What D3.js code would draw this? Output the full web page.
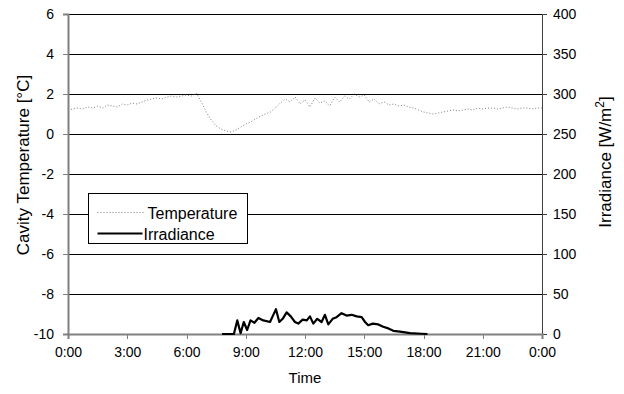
<!DOCTYPE html>
<html>
<head>
<meta charset="utf-8">
<script src="https://cdn.jsdelivr.net/npm/d3@7"></script>
<style>
body { margin: 0; background: #fff; }
text { font-family: "Liberation Sans", Arial, sans-serif; font-size: 14px; fill: #000; }
</style>
</head>
<body>
<svg width="624" height="394"></svg>
<script>
// temperature, every 15 min from 0:00 to 24:00
var tempValues = [1.2,1.25,1.3,1.25,1.35,1.3,1.4,1.3,1.45,1.4,1.35,1.5,1.45,1.55,1.5,1.6,
  1.7,1.75,1.8,1.75,1.85,1.9,1.85,1.9,1.95,1.9,2.05,1.6,1.1,0.7,0.4,0.25,
  0.15,0.1,0.2,0.35,0.5,0.6,0.75,0.9,1.0,1.1,1.3,1.55,1.75,1.6,1.85,1.5,
  1.7,1.35,1.8,1.55,1.65,1.4,1.85,1.6,1.9,1.75,2.0,1.85,1.95,1.6,1.75,1.5,
  1.6,1.45,1.5,1.4,1.45,1.35,1.3,1.2,1.1,1.05,1.0,1.05,1.1,1.15,1.2,1.15,
  1.2,1.25,1.2,1.3,1.25,1.3,1.3,1.25,1.3,1.35,1.3,1.25,1.3,1.3,1.25,1.3,1.3];

// irradiance [hour, W/m2]
var irrHours = [7.8,8.4,8.57,8.74,8.9,9.07,9.24,9.44,9.64,9.89,10.23,10.36,10.53,10.7,10.87,11.07,
  11.28,11.49,11.66,11.88,12.09,12.25,12.42,12.62,12.84,13.01,13.18,13.4,13.6,13.85,14.1,14.36,
  14.62,14.87,15.04,15.2,15.43,15.71,15.96,16.22,16.47,16.81,17.32,17.9,18.2];
var irrValues = [0,0,17,1,15,5,17,14,20,17,15,22,31,15,19,27,
  22,15,13,18,17,22,13,19,15,24,12,19,21,26,23,24,
  22,21,15,11,13,12,9,7,4,3,1,0.3,0];

var timeTicks = [0,3,6,9,12,15,18,21,24];
var timeLabels = ["0:00","3:00","6:00","9:00","12:00","15:00","18:00","21:00","0:00"];
var tempTicks = [-10,-8,-6,-4,-2,0,2,4,6];
var irrTicks = [0,50,100,150,200,250,300,350,400];

var svg = d3.select("svg");
var plotL = 68, plotR = 542, plotT = 14, plotB = 334;

var x = d3.scaleLinear().domain([0,24]).range([plotL,plotR]);
var yT = d3.scaleLinear().domain([-10,6]).range([plotB,plotT]);
var yI = d3.scaleLinear().domain([0,400]).range([plotB,plotT]);

// gridlines
svg.append("g").selectAll("line")
  .data(tempTicks.slice(1))
  .enter().append("line")
  .attr("x1", plotL).attr("x2", plotR)
  .attr("y1", d => yT(d) + 0.5).attr("y2", d => yT(d) + 0.5)
  .attr("stroke", "#000").attr("stroke-width", 1)
  .attr("shape-rendering", "crispEdges");

// axes
var axL = svg.append("g").attr("transform", "translate(" + plotL + ",0)")
  .call(d3.axisLeft(yT).tickValues(tempTicks).tickFormat(d => String(d)).tickSize(5).tickPadding(9));
var axR = svg.append("g").attr("transform", "translate(" + plotR + ",0)")
  .call(d3.axisRight(yI).tickValues(irrTicks).tickFormat(d => String(d)).tickSize(5).tickPadding(6));
var axB = svg.append("g").attr("transform", "translate(0," + plotB + ")")
  .call(d3.axisBottom(x).tickValues(timeTicks).tickFormat((d, i) => timeLabels[i]).tickSize(5).tickPadding(8));

[axL, axR, axB].forEach(function(a) {
  a.selectAll("text").style("font-size", "14px").style("font-family", "Liberation Sans, Arial, sans-serif").attr("fill", "#000");
  a.selectAll("line").attr("stroke", "#808080").attr("shape-rendering", "crispEdges");
});
axL.select(".domain").attr("stroke", "#808080").attr("stroke-width", 2);
axB.select(".domain").attr("stroke", "#808080").attr("stroke-width", 2);
axR.select(".domain").attr("stroke", "#404040").attr("stroke-width", 1);
axR.selectAll("line").attr("stroke", "#404040");

// temperature line
var tempLine = d3.line()
  .x((d, i) => x(i / 4))
  .y(d => yT(d));
svg.append("path")
  .datum(tempValues)
  .attr("d", tempLine)
  .attr("fill", "none")
  .attr("stroke", "#808080")
  .attr("stroke-width", 1)
  .attr("stroke-dasharray", "1,2");

// irradiance line
var irrLine = d3.line()
  .x((d, i) => x(irrHours[i]))
  .y(d => yI(d));
svg.append("path")
  .datum(irrValues)
  .attr("d", irrLine)
  .attr("fill", "none")
  .attr("stroke", "#000")
  .attr("stroke-width", 2.2)
  .attr("stroke-linejoin", "round");

// legend
var lg = svg.append("g").attr("transform", "translate(88.5,193.5)");
lg.append("rect").attr("width", 159).attr("height", 50)
  .attr("fill", "#fff").attr("stroke", "#000");
lg.append("line").attr("x1", 9).attr("x2", 57).attr("y1", 19).attr("y2", 19)
  .attr("stroke", "#808080").attr("stroke-dasharray", "1,2");
lg.append("text").attr("x", 59).attr("y", 25).style("font-size", "16px").text("Temperature");
lg.append("line").attr("x1", 9).attr("x2", 54).attr("y1", 40).attr("y2", 40)
  .attr("stroke", "#000").attr("stroke-width", 2);
lg.append("text").attr("x", 55).attr("y", 46).style("font-size", "16px").text("Irradiance");

// axis titles
svg.append("text")
  .attr("transform", "translate(29,165) rotate(-90)")
  .attr("text-anchor", "middle")
  .style("font-size", "17px")
  .text("Cavity Temperature [°C]");

var rt = svg.append("text")
  .attr("transform", "translate(611,162) rotate(-90)")
  .attr("text-anchor", "middle")
  .style("font-size", "17px");
rt.append("tspan").text("Irradiance [W/m");
rt.append("tspan").attr("dy", -7).style("font-size", "12px").text("2");
rt.append("tspan").attr("dy", 7).text("]");

svg.append("text")
  .attr("x", (plotL + plotR) / 2).attr("y", 383)
  .attr("text-anchor", "middle")
  .style("font-size", "15px")
  .text("Time");
</script>
</body>
</html>
